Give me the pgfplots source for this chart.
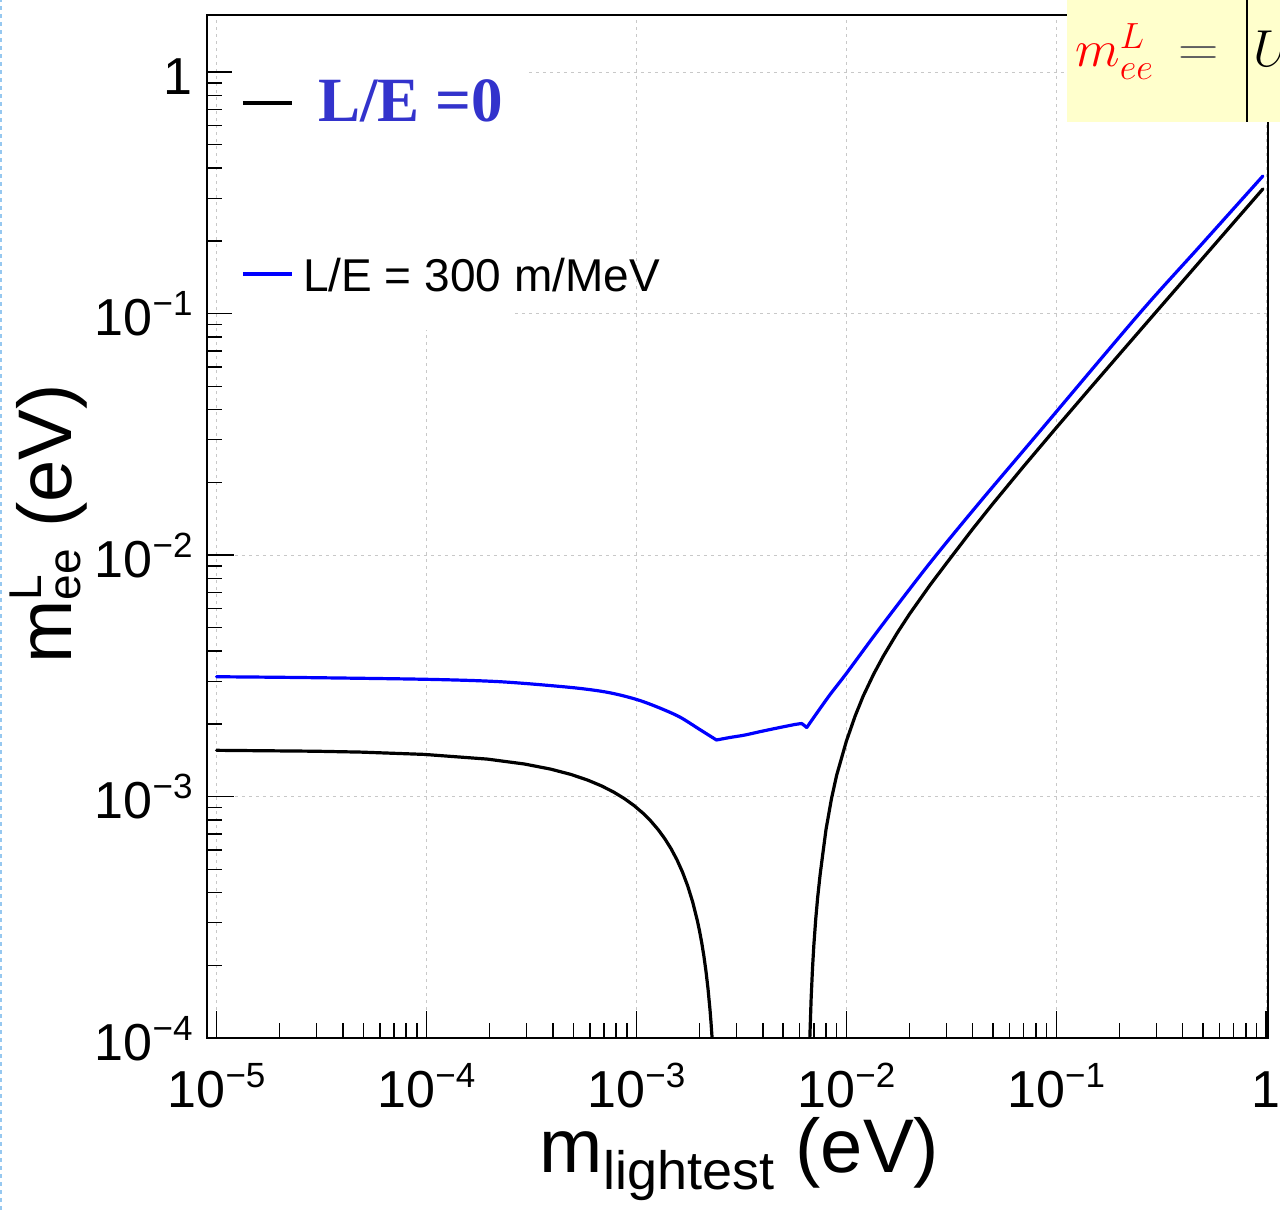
\RequirePackage{fix-cm}
\documentclass[border=0pt]{standalone}
\usepackage{fontspec}
\setmainfont{Liberation Sans}
\newfontfamily\lserif{Liberation Serif}
\usepackage{pgfplots}
\pgfplotsset{compat=1.18}
\definecolor{legblue}{RGB}{51,51,204}
\definecolor{pale}{RGB}{255,255,204}
\definecolor{gridgray}{RGB}{200,200,200}
\definecolor{edgeblue}{RGB}{150,200,240}

% 10^{-n} tick label in the text font
\newcommand{\tpow}[1]{10\smash{\raisebox{10pt}{\fontsize{17.5pt}{18pt}\selectfont −#1}}}

\begin{document}
\begin{tikzpicture}
\begin{axis}[
    at={(0,0)}, anchor=south west,
    scale only axis, width=530.5pt, height=511.5pt,
    xmode=log, ymode=log,
    xmin=9.0e-6, xmax=1.02, ymin=1e-4, ymax=1.722,
    xtick={1e-5,1e-4,1e-3,1e-2,1e-1,1},
    xticklabels={\tpow{5},\tpow{4},\tpow{3},\tpow{2},\tpow{1},1},
    minor xtick={2e-5,3e-5,4e-5,5e-5,6e-5,7e-5,8e-5,9e-5,
                 2e-4,3e-4,4e-4,5e-4,6e-4,7e-4,8e-4,9e-4,
                 2e-3,3e-3,4e-3,5e-3,6e-3,7e-3,8e-3,9e-3,
                 2e-2,3e-2,4e-2,5e-2,6e-2,7e-2,8e-2,9e-2,
                 0.2,0.3,0.4,0.5,0.6,0.7,0.8,0.9},
    ytick={1e-4,1e-3,1e-2,1e-1,1},
    yticklabels={\tpow{4},\tpow{3},\tpow{2},\tpow{1},1},
    minor ytick={2e-4,3e-4,4e-4,5e-4,6e-4,7e-4,8e-4,9e-4,
                 2e-3,3e-3,4e-3,5e-3,6e-3,7e-3,8e-3,9e-3,
                 2e-2,3e-2,4e-2,5e-2,6e-2,7e-2,8e-2,9e-2,
                 0.2,0.3,0.4,0.5,0.6,0.7,0.8,0.9},
    tick pos=left, tick align=inside,
    major tick length=13.5pt, minor tick length=7.5pt,
    every tick/.style={black, line width=0.7pt},
    axis line style={line width=1pt},
    grid=major,
    major grid style={gridgray, line width=0.5pt, dash pattern=on 1.5pt off 2pt},
    ticklabel style={font=\fontsize{26pt}{28pt}\selectfont, inner sep=0pt},
    xticklabel style={anchor=center, yshift=-26pt},
    yticklabel style={anchor=east, xshift=-7pt, yshift=-2.25pt},
    every axis plot/.append style={line width=1.6pt, line cap=round, line join=round, no marks},
]
% L/E = 0, left branch
\addplot[black] coordinates {
    (1e-5,1.5534e-3) (2.925e-5,1.5402e-3) (4.875e-5,1.52698e-3) (0.975e-4,1.4941e-3)
    (1.95e-4,1.4286e-3) (2.925e-4,1.3635e-3) (3.9e-4,1.29865e-3) (4.875e-4,1.2342e-3)
    (5.85e-4,1.16999e-3) (6.825e-4,1.1062e-3) (7.8e-4,1.04267e-3) (8.775e-4,0.97955e-3)
    (0.975e-3,0.91675e-3) (1.0725e-3,0.85427e-3) (1.170e-3,0.79217e-3)
    (1.2675e-3,0.73036e-3) (1.365e-3,0.6689e-3) (1.4625e-3,0.60774e-3)
    (1.560e-3,0.54694e-3) (1.6575e-3,0.48644e-3) (1.755e-3,0.42628e-3)
    (1.8525e-3,0.36645e-3) (1.950e-3,0.30689e-3) (1.99875e-3,0.27727e-3)
    (2.0475e-3,0.24769e-3) (2.09625e-3,0.2182e-3) (2.145e-3,0.18879e-3)
    (2.19375e-3,0.15947e-3) (2.2425e-3,0.13022e-3) (2.266875e-3,0.11561e-3)
    (2.29125e-3,0.10103e-3) (2.34e-3,0.07193e-3) (2.4375e-3,0.01393e-3)
};
% L/E = 0, right branch
\addplot[black] coordinates {
    (6.6e-3,0.05222e-3) (6.7e-3,0.10001e-3) (6.8e-3,0.14719e-3) (6.9e-3,0.19435e-3)
    (7.0e-3,0.24132e-3) (7.15e-3,0.31167e-3) (7.3e-3,0.38126e-3) (7.5e-3,0.47401e-3)
    (7.7e-3,0.56586e-3) (8.0e-3,0.72983e-3) (8.5e-3,0.98229e-3) (9.0e-3,1.22892e-3)
    (1.0e-2,1.69404e-3) (1.1e-2,2.14833e-3) (1.2e-2,2.59332e-3) (1.35e-2,3.21609e-3)
    (1.5e-2,3.81247e-3) (1.75e-2,4.76566e-3) (2.0e-2,5.69626e-3) (2.5e-2,7.49522e-3)
    (3.0e-2,9.24733e-3) (4.0e-2,0.012825) (5.0e-2,0.016349) (7.0e-2,0.023309)
    (0.1,0.033644) (0.15,0.050758) (0.2,0.067817) (0.3,0.101878) (0.5,0.169927)
    (0.7,0.237948) (0.965,0.328063)
};
% L/E = 300 m/MeV, drawn in pieces so the kinks stay sharp
\addplot[blue, smooth, tension=0.5] coordinates {
    (1e-5,3.133e-3) (2.494e-5,3.110e-3) (1e-4,3.057e-3) (2.236e-4,2.988e-3)
    (4.647e-4,2.840e-3) (6.692e-4,2.734e-3) (8.337e-4,2.633e-3)
    (1.038e-3,2.498e-3) (1.292e-3,2.325e-3) (1.609e-3,2.134e-3)
    (2.004e-3,1.894e-3) (2.406e-3,1.714e-3)
};
\addplot[blue, smooth, tension=0.5] coordinates {
    (2.406e-3,1.714e-3) (2.785e-3,1.755e-3) (3.283e-3,1.797e-3) (3.870e-3,1.855e-3)
    (4.818e-3,1.931e-3) (5.682e-3,1.987e-3) (6.133e-3,2.006e-3)
};
\addplot[blue] coordinates {
    (6.133e-3,2.006e-3) (6.479e-3,1.931e-3)
};
\addplot[blue, smooth, tension=0.5] coordinates {
    (6.479e-3,1.931e-3) (7.072e-3,2.154e-3) (8.337e-3,2.633e-3)
    (1.001e-2,3.236e-3) (1.442e-2,4.970e-3) (2.494e-2,9.238e-3)
    (4.316e-2,1.652e-2) (8.179e-2,3.184e-2) (0.2495,0.1002)
    (0.4818,0.1894) (0.9645,0.3710)
};
\end{axis}

\begin{scope}[shift={(current axis.south west)}, x=0.5pt, y=0.5pt]
    % legend backgrounds hide the grid
    \fill[white] (25,898) rectangle (321,1021);
    \fill[white] (25,708) rectangle (306,898);
    \draw[black, line width=1.6pt] (36,935) -- (85,935);
    \node[anchor=base west, inner sep=0pt, text=legblue,
          font=\lserif\bfseries\fontsize{31.5pt}{33pt}\selectfont] at (111,916.3) {L/E =0};
    \draw[blue, line width=1.6pt] (36,764) -- (85,764);
    \node[anchor=base west, inner sep=0pt,
          font=\fontsize{23pt}{25pt}\selectfont] at (95.7,746.3) {L/E = 300 m/MeV};

    % axis titles
    \node[anchor=base, inner sep=0pt, font=\fontsize{38pt}{40pt}\selectfont] at (532.5,-134)
        {m\raisebox{-8.5pt}{\fontsize{27pt}{28pt}\selectfont lightest} (eV)};
    \node[anchor=base, rotate=90, inner sep=0pt, font=\fontsize{38pt}{40pt}\selectfont] at (-135,514)
        {m\rlap{\raisebox{15pt}{\fontsize{23pt}{24pt}\selectfont L}}\raisebox{-4.5pt}{\fontsize{23pt}{24pt}\selectfont ee} (eV)};

    % formula box from the slide, cut at the right edge
    \fill[pale] (860,916) rectangle (1100,1060);
    \node[anchor=base west, inner sep=0pt, text=red,
          font=\fontsize{26pt}{28pt}\selectfont] at (868,971) {$m^{L}_{ee}$};
    \node[anchor=base west, inner sep=0pt, text=gray!75!black,
          font=\fontsize{28pt}{30pt}\selectfont] at (971,971) {$=$};
    \draw[line width=1pt] (1040,1040) -- (1040,916);
    \node[anchor=base west, inner sep=0pt,
          font=\fontsize{26pt}{28pt}\selectfont] at (1046,971) {$U$};

    \draw[edgeblue, line width=1pt, dash pattern=on 2pt off 2pt] (-206,-172) -- (-206,1038);

    \pgfresetboundingbox
    \path[use as bounding box] (-207,-172) rectangle (1073,1038);
\end{scope}
\end{tikzpicture}
\end{document}
